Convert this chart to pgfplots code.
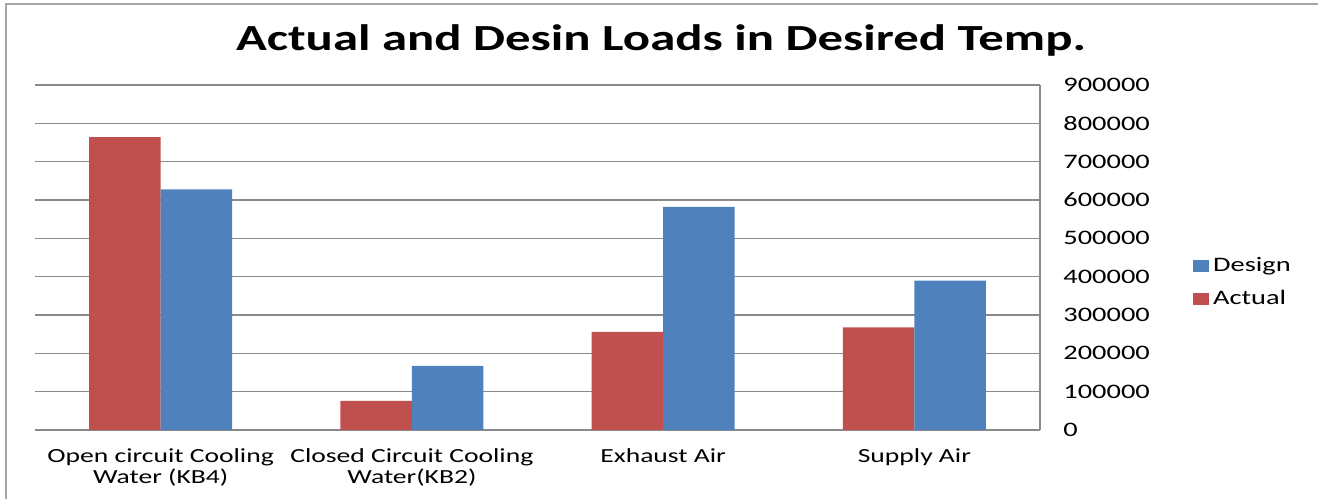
\documentclass[border=0pt]{standalone}
\usepackage{fontspec}
\setmainfont{Carlito}[FakeStretch=1.38]
\usepackage{pgfplots}
\pgfplotsset{compat=1.18}
\definecolor{actred}{HTML}{C0504D}
\definecolor{desblue}{HTML}{4F81BD}
\definecolor{gridgray}{HTML}{8A8A8A}
\begin{document}
\begin{tikzpicture}
\path[use as bounding box] (0,0) rectangle (659bp,249.5bp);
\draw[gray!70, line width=0.75bp] (3bp,0) -- (3bp,247.5bp) -- (659bp,247.5bp);
\node[anchor=base, font=\bfseries\fontsize{18.4bp}{20bp}\selectfont] at (330.5bp,224bp) {Actual and Desin Loads in Desired Temp.};
\begin{axis}[
  at={(17.5bp,34.5bp)}, anchor=south west,
  width=502.5bp, height=172.5bp, scale only axis,
  ybar=0pt, bar width=35.75bp,
  xmin=-0.5, xmax=3.5, ymin=0, ymax=900000,
  axis x line*=bottom, axis y line*=right,
  axis line style={-, draw=gridgray, line width=0.6bp},
  major tick length=0pt,
  xtick=data,
  xticklabels={{Open circuit Cooling\\Water (KB4)},{Closed Circuit Cooling\\Water(KB2)},{Exhaust Air},{Supply Air}},
  xticklabel style={align=center, font=\fontsize{10bp}{10.5bp}\selectfont, anchor=north, inner sep=0pt, yshift=-9bp},
  ytick={0,100000,200000,300000,400000,500000,600000,700000,800000,900000},
  yticklabels={0,100000,200000,300000,400000,500000,600000,700000,800000,900000},
  scaled y ticks=false,
  yticklabel style={anchor=west, inner sep=0pt, xshift=11.5bp, font=\fontsize{10.3bp}{12bp}\selectfont},
  ymajorgrids, grid style={draw=gridgray, line width=0.6bp},
  legend style={at={(1.152,0.4275)}, anchor=west, draw=none, fill=none, inner sep=0pt,
    font=\fontsize{10.3bp}{12bp}\selectfont, row sep=4bp, cells={anchor=west}},
  reverse legend,
]
\addplot[fill=actred, draw=none, legend image code/.code={\fill[actred] (0bp,-3bp) rectangle (8bp,3bp);}]
  coordinates {(0,764000) (1,76000) (2,256000) (3,268000)};
\addlegendentry{Actual}
\addplot[fill=desblue, draw=none, legend image code/.code={\fill[desblue] (0bp,-3bp) rectangle (8bp,3bp);}]
  coordinates {(0,628000) (1,167000) (2,582000) (3,390000)};
\addlegendentry{Design}
\end{axis}
\end{tikzpicture}
\end{document}
